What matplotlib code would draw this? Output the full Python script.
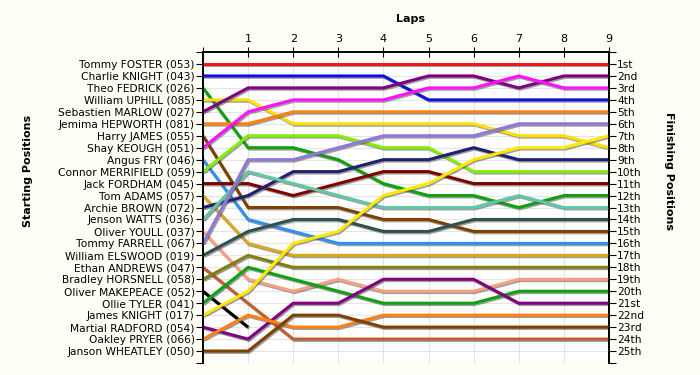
import matplotlib
matplotlib.use("Agg")
import matplotlib.pyplot as plt
import matplotlib.patheffects as pe

# lap chart data: position at lap 0 (grid) .. lap 9
drivers = ["Tommy FOSTER (053)", "Charlie KNIGHT (043)", "Theo FEDRICK (026)",
           "William UPHILL (085)", "Sebastien MARLOW (027)", "Jemima HEPWORTH (081)",
           "Harry JAMES (055)", "Shay KEOUGH (051)", "Angus FRY (046)",
           "Connor MERRIFIELD (059)", "Jack FORDHAM (045)", "Tom ADAMS (057)",
           "Archie BROWN (072)", "Jenson WATTS (036)", "Oliver YOULL (037)",
           "Tommy FARRELL (067)", "William ELSWOOD (019)", "Ethan ANDREWS (047)",
           "Bradley HORSNELL (058)", "Oliver MAKEPEACE (052)", "Ollie TYLER (041)",
           "James KNIGHT (017)", "Martial RADFORD (054)", "Oakley PRYER (066)",
           "Janson WHEATLEY (050)"]

positions = [
    [1, 1, 1, 1, 1, 1, 1, 1, 1, 1],
    [2, 2, 2, 2, 2, 4, 4, 4, 4, 4],
    [3, 8, 8, 9, 11, 12, 12, 13, 12, 12],
    [4, 4, 6, 6, 6, 6, 6, 7, 7, 8],
    [5, 3, 3, 3, 3, 2, 2, 3, 2, 2],
    [6, 6, 5, 5, 5, 5, 5, 5, 5, 5],
    [7, 13, 13, 13, 14, 14, 15, 15, 15, 15],
    [8, 5, 4, 4, 4, 3, 3, 2, 3, 3],
    [9, 14, 15, 16, 16, 16, 16, 16, 16, 16],
    [10, 7, 7, 7, 8, 8, 10, 10, 10, 10],
    [11, 11, 12, 11, 10, 10, 11, 11, 11, 11],
    [12, 16, 17, 17, 17, 17, 17, 17, 17, 17],
    [13, 12, 10, 10, 9, 9, 8, 9, 9, 9],
    [14, 10, 11, 12, 13, 13, 13, 12, 13, 13],
    [15, 19, 20, 19, 20, 20, 20, 19, 19, 19],
    [16, 9, 9, 8, 7, 7, 7, 6, 6, 6],
    [17, 15, 14, 14, 15, 15, 14, 14, 14, 14],
    [18, 21, 24, 24, 24, 24, 24, 24, 24, 24],
    [19, 17, 18, 18, 18, 18, 18, 18, 18, 18],
    [20, 23],  # retired after lap 1
    [21, 18, 19, 20, 21, 21, 21, 20, 20, 20],
    [22, 20, 16, 15, 12, 11, 9, 8, 8, 7],
    [23, 24, 21, 21, 19, 19, 19, 21, 21, 21],
    [24, 22, 23, 23, 22, 22, 22, 22, 22, 22],
    [25, 25, 22, 22, 23, 23, 23, 23, 23, 23],
]

colors = ["#F01818", "#1010E0", "#10A010", "#FFE000", "#800080", "#FF8010",
          "#804000", "#FF10FF", "#3090F0", "#80F000", "#800000", "#D8A820",
          "#202070", "#60C8A8", "#F8A080", "#9078D8", "#305050", "#C06030",
          "#808010", "#000000", "#10A010", "#FFE800", "#800080", "#FF8010",
          "#804000"]

finish_labels = ["1st", "2nd", "3rd", "4th", "5th", "6th", "7th", "8th", "9th",
                 "10th", "11th", "12th", "13th", "14th", "15th", "16th", "17th",
                 "18th", "19th", "20th", "21st", "22nd", "23rd", "24th", "25th"]

laps = list(range(10))

fig = plt.figure(figsize=(7, 3.75), dpi=100, facecolor="#FFFEF4")
ax = fig.add_axes([0.29, 0.032, 0.58, 0.8293])
ax.set_facecolor("white")

for i in range(len(drivers)):
    p = positions[i]
    ax.plot(laps[:len(p)], p, color=colors[i], lw=2.2, solid_capstyle="butt",
            path_effects=[pe.SimpleLineShadow(offset=(0.8, -1.0), shadow_color="#505050", alpha=0.55),
                          pe.Normal()], zorder=3)

ax.set_xlim(0, 9)
ax.set_ylim(26, 0)

ax.set_xticks(laps)
ax.set_xticklabels([""] + [str(l) for l in laps[1:]], fontsize=8)
ax.xaxis.tick_top()
ax.tick_params(axis="x", direction="inout", length=7, pad=2)

ax.set_yticks(range(0, 27))
ax.set_yticklabels([""] + drivers + [""], fontsize=7.7)
ax.tick_params(axis="y", direction="out", length=5, pad=1)

ax2 = ax.twinx()
ax2.set_ylim(26, 0)
ax2.set_yticks(range(0, 27))
ax2.set_yticklabels([""] + finish_labels + [""], fontsize=7.7)
ax2.tick_params(axis="y", direction="out", length=5, pad=1)

for a in (ax, ax2):
    a.spines["bottom"].set_visible(False)
    for s in ("left", "right", "top"):
        a.spines[s].set_linewidth(1.2)

ax.grid(True, color="#E4E4E4", lw=0.8, zorder=0)
ax.set_axisbelow(True)

fig.text(0.586, 0.95, "Laps", ha="center", va="center", fontsize=8, fontweight="bold")
fig.text(0.04, 0.545, "Starting Positions", ha="center", va="center", rotation=90,
         fontsize=8, fontweight="bold")
fig.text(0.955, 0.545, "Finishing Positions", ha="center", va="center", rotation=270,
         fontsize=8, fontweight="bold")

fig.savefig("out.png", dpi=100, facecolor=fig.get_facecolor())
